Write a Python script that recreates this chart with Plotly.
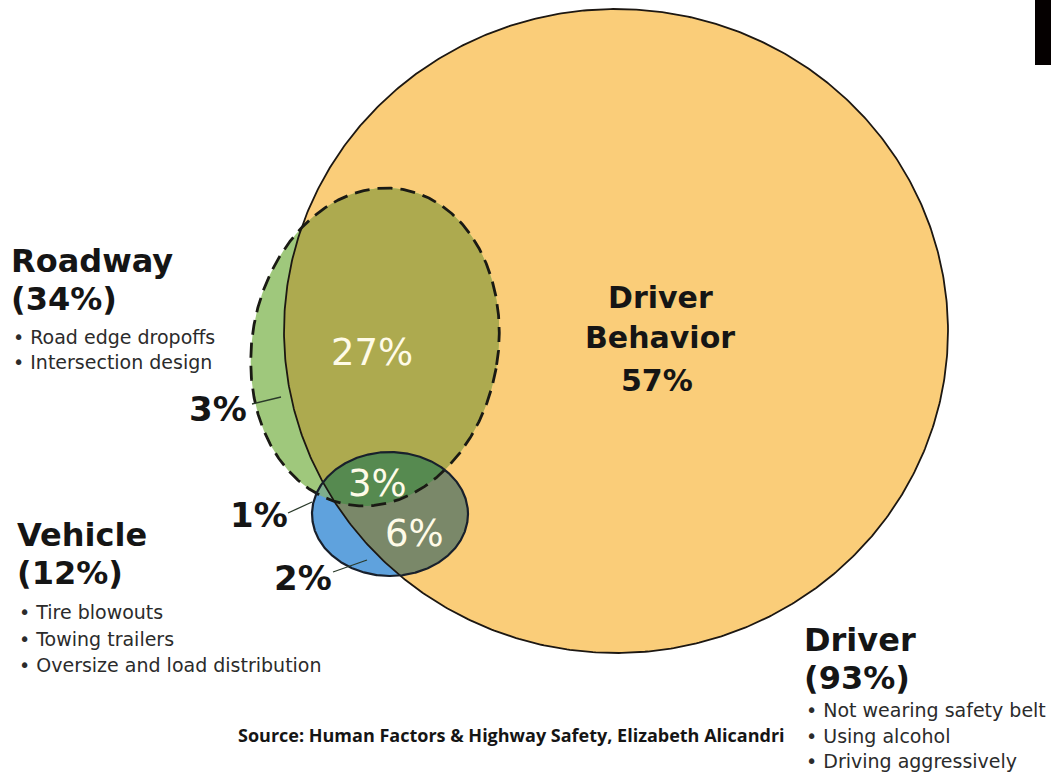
import numpy as np
import plotly.graph_objects as go

# ---------------- data ----------------
set_names = ["Driver", "Roadway", "Vehicle"]
set_pcts = [93, 34, 12]
set_bullets = [
    ["Not wearing safety belt", "Using alcohol", "Driving aggressively"],
    ["Road edge dropoffs", "Intersection design"],
    ["Tire blowouts", "Towing trailers", "Oversize and load distribution"],
]
region_names = ["Driver Behavior", "Roadway & Driver", "Roadway only",
                "All three", "Roadway & Vehicle", "Vehicle & Driver", "Vehicle only"]
region_pcts = [57, 27, 3, 3, 1, 6, 2]
source_text = "Source: Human Factors & Highway Safety, Elizabeth Alicandri"

# ---------------- layout geometry (pixel space) ----------------
W, H = 1051, 777
# ellipses: cx, cy, rx, ry, rotation(deg)
geo = {
    "Driver": (616, 331, 332, 322, 0),
    "Roadway": (375, 347, 123, 160, 10),
    "Vehicle": (390, 514, 78, 62, 0),
}


def boundary(s, n=1440):
    cx, cy, rx, ry, a = s
    a = np.radians(a)
    t = np.linspace(0, 2 * np.pi, n, endpoint=False)
    ex = np.array([np.cos(a), np.sin(a)])
    ey = np.array([-np.sin(a), np.cos(a)])
    x = cx + rx * np.cos(t) * ex[0] + ry * np.sin(t) * ey[0]
    y = cy + rx * np.cos(t) * ex[1] + ry * np.sin(t) * ey[1]
    return x, y


def inside(s, x, y, tol=1e-6):
    cx, cy, rx, ry, a = s
    a = np.radians(a)
    dx, dy = x - cx, y - cy
    u = dx * np.cos(a) + dy * np.sin(a)
    v = -dx * np.sin(a) + dy * np.cos(a)
    return (u / rx) ** 2 + (v / ry) ** 2 <= 1 + tol


def intersect(names):
    shapes = [geo[n] for n in names]
    xs, ys = [], []
    for i, s in enumerate(shapes):
        bx, by = boundary(s)
        m = np.ones_like(bx, dtype=bool)
        for j, o in enumerate(shapes):
            if j != i:
                m &= inside(o, bx, by)
        xs.append(bx[m]); ys.append(by[m])
    x = np.concatenate(xs); y = np.concatenate(ys)
    mx, my = x.mean(), y.mean()
    order = np.argsort(np.arctan2(y - my, x - mx))
    x, y = x[order], y[order]
    return np.append(x, x[0]), np.append(y, y[0])


fig = go.Figure()

fills = [
    (["Driver"], "#FACD79"),
    (["Roadway"], "#9FC87C"),
    (["Roadway", "Driver"], "#ADAA4F"),
    (["Vehicle"], "#5FA2DD"),
    (["Vehicle", "Roadway"], "#7DAE8C"),
    (["Vehicle", "Driver"], "#7A8869"),
    (["Vehicle", "Driver", "Roadway"], "#568A50"),
]
for names, col in fills:
    x, y = intersect(names)
    fig.add_trace(go.Scatter(x=x, y=y, mode="lines", fill="toself", fillcolor=col,
                             line=dict(width=0), hoverinfo="skip", showlegend=False))

outlines = [
    ("Driver", dict(color="#1c1712", width=1.8)),
    ("Roadway", dict(color="#1a1a14", width=2.8, dash="15px,8px")),
    ("Vehicle", dict(color="#18202c", width=2.2)),
]
for name, ln in outlines:
    x, y = boundary(geo[name], 720)
    fig.add_trace(go.Scatter(x=np.append(x, x[0]), y=np.append(y, y[0]), mode="lines",
                             line=ln, hoverinfo="skip", showlegend=False))

HF = "DejaVu Sans"
anns = []


def txt(x, y, s, size, color="#151515", xa="left", bold=True, family=HF):
    if bold:
        s = "<b>" + s + "</b>"
    anns.append(dict(x=x, y=y, xref="x", yref="y", text=s, showarrow=False,
                     xanchor=xa, yanchor="middle", borderpad=0,
                     font=dict(family=family, size=size, color=color)))


# set headings + bullets: x, heading y, pct y, first bullet y, bullet step
head_pos = {"Roadway": (10, 261, 298.5, 337, 24.5), "Vehicle": (16, 535, 572.5, 612, 26.5),
            "Driver": (803, 640, 677.5, 710, 25.5)}
for name, pct, bl in zip(set_names, set_pcts, set_bullets):
    x0, yh, yp, yb, dy = head_pos[name]
    txt(x0, yh, name, 32)
    txt(x0, yp, f"({pct}%)", 32)
    for k, b in enumerate(bl):
        txt(x0 + 2, yb + k * dy, "• " + b, 19, color="#2b2b2b", bold=False)

# region labels
reg_pos = {
    "Roadway & Driver": (372, 352, "#FFFBE8"),
    "Roadway only": (218, 409, "#151515"),
    "All three": (377, 483, "#FFFBE8"),
    "Roadway & Vehicle": (259, 515, "#151515"),
    "Vehicle & Driver": (414, 533, "#FFFBE8"),
    "Vehicle only": (303, 578, "#151515"),
}
for rn, rp in zip(region_names, region_pcts):
    if rn == "Driver Behavior":
        txt(660, 297, "Driver", 30, xa="center")
        txt(660, 337, "Behavior", 30, xa="center")
        txt(657, 380, f"{rp}%", 30, xa="center")
    else:
        x, y, c = reg_pos[rn]
        if c == "#FFFBE8":
            txt(x, y, f"{rp}%", 37, color=c, xa="center", bold=False)
        else:
            txt(x, y, f"{rp}%", 34, color=c, xa="center", bold=True)

txt(786, 735, source_text, 18, xa="right", family="Open Sans")

shapes = []
leaders = [((252, 404), (281, 397)), ((288, 513), (312, 502)), ((333, 572), (367, 560))]
for (a, b) in leaders:
    shapes.append(dict(type="line", xref="x", yref="y", x0=a[0], y0=a[1], x1=b[0], y1=b[1],
                       line=dict(color="#2a3a2a", width=1.3)))
shapes.append(dict(type="rect", xref="x", yref="y", x0=1035, x1=1052, y0=-2, y1=65,
                   fillcolor="#050000", line=dict(width=0)))

fig.update_layout(
    width=W, height=H, margin=dict(l=0, r=0, t=0, b=0),
    paper_bgcolor="white", plot_bgcolor="white",
    xaxis=dict(range=[0, W], visible=False, fixedrange=True),
    yaxis=dict(range=[H, 0], visible=False, fixedrange=True),
    annotations=anns, shapes=shapes, showlegend=False,
)
fig.write_html("out.html", post_script="document.body.style.margin='0';",
               config={"displayModeBar": False})
